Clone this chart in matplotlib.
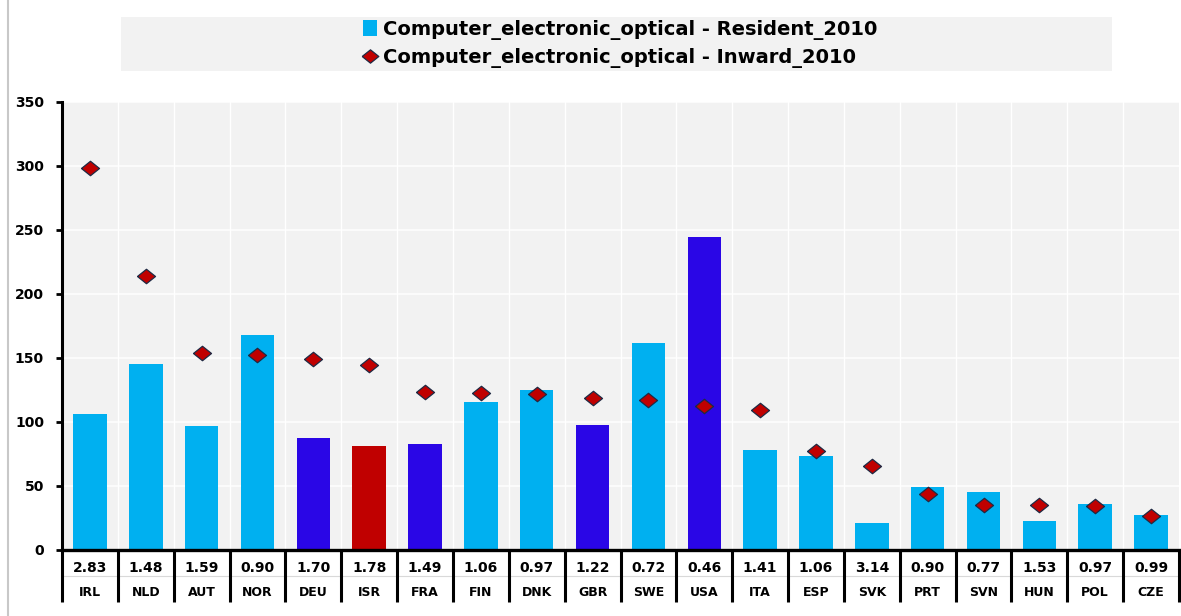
import numpy as np
import matplotlib.pyplot as plt
from matplotlib.patches import Rectangle, Patch
from matplotlib.lines import Line2D
import matplotlib.transforms as mtransforms

# Data
countries = ['IRL', 'NLD', 'AUT', 'NOR', 'DEU', 'ISR', 'FRA', 'FIN', 'DNK', 'GBR',
             'SWE', 'USA', 'ITA', 'ESP', 'SVK', 'PRT', 'SVN', 'HUN', 'POL', 'CZE']
resident_2010 = [105.9, 144.9, 96.2, 167.6, 87.1, 80.9, 82.4, 115.5, 124.9, 97.3,
                 161.6, 244.1, 77.5, 72.8, 20.7, 48.6, 44.9, 22.3, 35.3, 26.7]
inward_2010 = [298.3, 213.9, 153.3, 151.7, 148.8, 143.9, 122.8, 122.5, 121.7, 118.4,
               116.5, 112.4, 109.2, 77.0, 65.0, 43.6, 34.8, 34.5, 34.2, 26.4]
ratio_labels = ['2.83', '1.48', '1.59', '0.90', '1.70', '1.78', '1.49', '1.06', '0.97', '1.22',
                '0.72', '0.46', '1.41', '1.06', '3.14', '0.90', '0.77', '1.53', '0.97', '0.99']
dark_group = ['DEU', 'FRA', 'GBR', 'USA']
red_group = ['ISR']

LIGHT = '#00B0F0'
DARK = '#2A06E6'
RED = '#C00000'
BG = '#F2F2F2'
diamond = [(-1, 0), (0, 0.8), (1, 0), (0, -0.8), (-1, 0)]

bar_colors = []
for c in countries:
    if c in red_group:
        bar_colors.append(RED)
    elif c in dark_group:
        bar_colors.append(DARK)
    else:
        bar_colors.append(LIGHT)

fig = plt.figure(figsize=(11.81, 6.16), dpi=100)
W, H = 1181, 616
ax = fig.add_axes([62 / W, 1 - 549.5 / H, (1179 - 62) / W, (549.5 - 101.5) / H])
ax.set_facecolor(BG)

x = np.arange(len(countries))
ax.bar(x, resident_2010, width=0.6, color=bar_colors, zorder=2)
ax.plot(x, inward_2010, linestyle='none', marker=diamond, markersize=13,
        markerfacecolor=RED, markeredgecolor='#1F2A44', markeredgewidth=0.9, zorder=3)

ax.set_xlim(-0.5, len(countries) - 0.5)
ax.set_ylim(0, 350)
ax.set_yticks(np.arange(0, 351, 50))
ax.set_xticks(x)
ax.set_xticklabels([])
ax.tick_params(axis='x', length=0)
ax.tick_params(axis='y', length=4, width=2, direction='out', pad=9, labelsize=10)
for lab in ax.get_yticklabels():
    lab.set_fontweight('bold')

# white grid
for v in np.arange(50, 351, 50):
    ax.axhline(v, color='white', lw=1.1, zorder=1)
for b in np.arange(0.5, len(countries) - 0.5, 1):
    ax.axvline(b, color='white', lw=1.0, zorder=1)

for s in ['top', 'right']:
    ax.spines[s].set_visible(False)
ax.spines['left'].set_linewidth(2.2)
ax.spines['bottom'].set_linewidth(2.4)
ax.spines['left'].set_zorder(4)
ax.spines['bottom'].set_zorder(4)

# data table under the axis
trans = mtransforms.blended_transform_factory(ax.transData, ax.transAxes)
table_bottom = -(602 - 549.5) / 448
mid_line = -(576 - 549.5) / 448
ax.plot([-0.5, len(countries) - 0.5], [mid_line, mid_line], transform=trans,
        color='#D9D9D9', lw=0.8, clip_on=False)
for b in np.arange(-0.5, len(countries), 1):
    ax.plot([b, b], [0, table_bottom], transform=trans, color='black', lw=2.2,
            clip_on=False, solid_capstyle='butt')
for i in range(len(countries)):
    ax.text(i, -(567.5 - 549.5) / 448, ratio_labels[i], transform=trans,
            ha='center', va='center', fontsize=10, fontweight='bold')
    ax.text(i, -(593 - 549.5) / 448, countries[i], transform=trans,
            ha='center', va='center', fontsize=9, fontweight='bold')

# legend box
fig.patches.append(Rectangle((121 / W, 1 - 71 / H), (1112 - 121) / W, 54 / H,
                             transform=fig.transFigure, facecolor=BG, edgecolor='none'))
handles = [Patch(facecolor=LIGHT, edgecolor='none'),
           Line2D([], [], linestyle='none', marker=diamond, markersize=12,
                  markerfacecolor=RED, markeredgecolor='#1F2A44', markeredgewidth=0.9)]
fig.legend(handles, ['Computer_electronic_optical - Resident_2010',
                     'Computer_electronic_optical - Inward_2010'],
           loc='center', bbox_to_anchor=(620 / W, 1 - 44 / H), frameon=False,
           prop={'weight': 'bold', 'size': 14},
           handlelength=0.7, handleheight=0.9, handletextpad=0.3, labelspacing=0.4,
           borderpad=0)

# faint left border of the original frame
fig.add_artist(Line2D([8 / W, 8 / W], [0, 1], transform=fig.transFigure,
                      color='#C8C8C8', lw=1.5))

fig.savefig('out.png', dpi=100)
